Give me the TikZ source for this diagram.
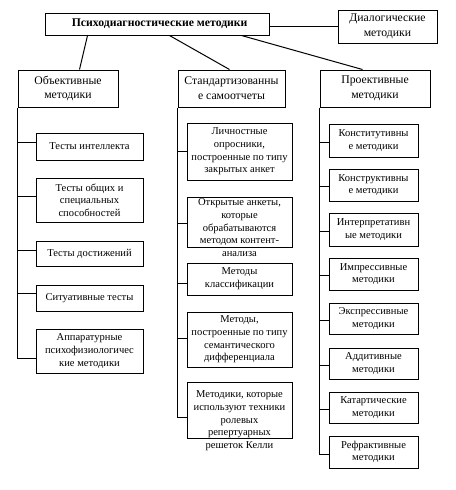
\documentclass[tikz,border=0pt]{standalone}
\usepackage{fontspec}
\setmainfont{Liberation Serif}
\usetikzlibrary{calc}
\newcommand\bodyfs{\fontsize{7.9}{9.5}\selectfont}
\newcommand\hdrfs{\fontsize{8.8}{11}\selectfont}
\newcommand\topfs{\fontsize{8.8}{10}\selectfont\bfseries}
\tikzset{
  sz/.style 2 args={minimum width=#1*0.75pt, minimum height=#2*0.75pt},
  box/.style={draw, line width=0.75pt, align=center, inner sep=0pt, font=\bodyfs},
  hdr/.style={box, font=\hdrfs},
  topbox/.style={box, font=\topfs},
  btxt/.style={align=center, inner sep=0pt, font=\bodyfs},
  conn/.style={line width=0.75pt},
}
\begin{document}
\begin{tikzpicture}[x=0.75pt,y=-0.75pt]
\useasboundingbox (0,0) rectangle (455,490);
% top level
\node[topbox, sz={224}{22}] (top) at (157,24) {\hspace*{4pt}Психодиагностические методики};
\node[hdr, sz={99}{33}] (dial) at (387.5,26.5) {Диалогические\\методики};
% headers
\node[hdr, sz={100}{37}] (obj) at (68,88.5) {Объективные\\методики};
\node[hdr, sz={107}{37}] (std) at (231.5,88.5) {Стандартизованны\\е самоотчеты};
\node[hdr, sz={110}{37}] (prj) at (375,88.5) {Проективные\\методики};
% left column
\node[box, sz={107}{27}] (l1) at (89.5,146.5) {Тесты интеллекта};
\node[box, sz={107}{44}] (l2) at (89.5,200) {Тесты общих и\\специальных\\способностей};
\node[box, sz={107}{25}] (l3) at (89.5,253.5) {Тесты достижений};
\node[box, sz={107}{26}] (l4) at (89.5,298) {Ситуативные тесты};
\node[box, sz={107}{44}] (l5) at (89.5,351) {Аппаратурные\\психофизиологичес\\кие методики};
% middle column
\node[box, sz={105}{57}] (m1) at (239.5,151.5) {Личностные\\опросники,\\построенные по типу\\закрытых анкет};
\node[box, sz={105}{50}] (m2) at (239.5,222) {};
\node[btxt, anchor=north] (m2t) at ($(m2.north)+(0,2)$) {Открытые анкеты,\\которые\\обрабатываются\\методом контент-\\анализа};
\node[box, sz={105}{32}] (m3) at (239.5,279) {Методы\\классификации};
\node[box, sz={105}{55}] (m4) at (239.5,339.5) {Методы,\\построенные по типу\\семантического\\дифференциала};
\node[box, sz={105}{56}] (m5) at (239.5,410) {};
\node[btxt, anchor=north] (m5t) at ($(m5.north)+(0,9)$) {Методики, которые\\используют техники\\ролевых\\репертуарных\\решеток Келли};
% right column
\node[box, sz={89}{33}] (r1) at (373.5,140.5) {Конститутивны\\е методики};
\node[box, sz={89}{32}] (r2) at (373.5,185) {Конструктивны\\е методики};
\node[box, sz={89}{33}] (r3) at (373.5,229.5) {Интерпретативн\\ые методики};
\node[box, sz={89}{32}] (r4) at (373.5,274) {Импрессивные\\методики};
\node[box, sz={89}{31}] (r5) at (373.5,318.5) {Экспрессивные\\методики};
\node[box, sz={89}{31}] (r6) at (373.5,363.5) {Аддитивные\\методики};
\node[box, sz={89}{31}] (r7) at (373.5,407.5) {Катартические\\методики};
\node[box, sz={89}{32}] (r8) at (373.5,452) {Рефрактивные\\методики};
% top connectors
\draw[conn] ($(top.south west)+(43,0)$) -- ($(obj.north west)+(62,0)$);
\draw[conn] ($(top.south west)+(125,0)$) -- ($(std.north west)+(52,0)$);
\draw[conn] ($(top.south west)+(197,0)$) -- ($(prj.north west)+(43,0)$);
\draw[conn] (top.east |- dial.west) -- (dial.west);
% left trunk
\draw[conn] (obj.south west) -- ($(obj.south west |- l5.west)+(0,7)$) -- ($(l5.west)+(0,7)$);
\draw[conn] ($(obj.south west |- l1.west)+(0,-4.5)$) -- ($(l1.west)+(0,-4.5)$);
\draw[conn] ($(obj.south west |- l2.west)+(0,-4)$) -- ($(l2.west)+(0,-4)$);
\draw[conn] ($(obj.south west |- l3.west)+(0,-3.5)$) -- ($(l3.west)+(0,-3.5)$);
\draw[conn] ($(obj.south west |- l4.west)+(0,-5)$) -- ($(l4.west)+(0,-5)$);
% middle trunk
\draw[conn] (std.south west) -- ($(std.south west |- m5.west)+(0,7)$) -- ($(m5.west)+(0,7)$);
\draw[conn] (std.south west |- m1.west) -- (m1.west);
\draw[conn] ($(std.south west |- m2.west)+(0,1)$) -- ($(m2.west)+(0,1)$);
\draw[conn] ($(std.south west |- m3.west)+(0,4)$) -- ($(m3.west)+(0,4)$);
\draw[conn] ($(std.south west |- m4.west)+(0,-1.5)$) -- ($(m4.west)+(0,-1.5)$);
% right trunk
\draw[conn] (prj.south west) -- ($(prj.south west |- r8.west)+(0,2)$) -- ($(r8.west)+(0,2)$);
\foreach \n in {r1,r2,r3,r4,r5,r6,r7}
  \draw[conn] ($(prj.south west |- \n.west)+(0,1.5)$) -- ($(\n.west)+(0,1.5)$);
\end{tikzpicture}
\end{document}
